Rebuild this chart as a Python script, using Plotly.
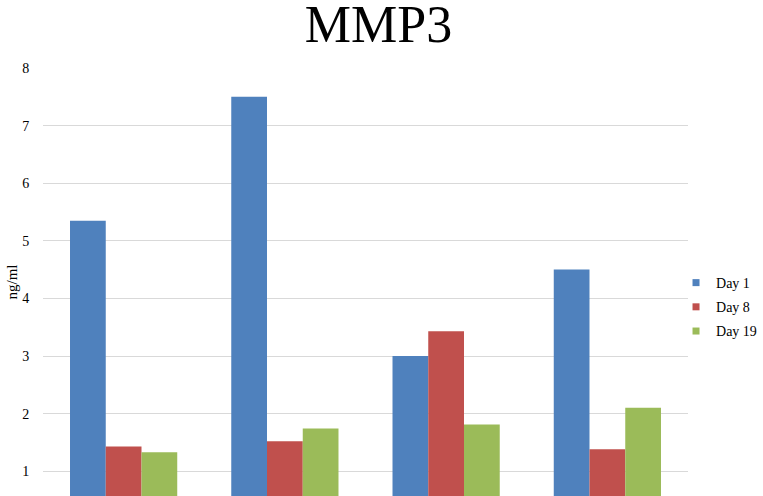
import plotly.graph_objects as go

# Data (x labels are cropped out in the source)
groups = ["Group 1", "Group 2", "Group 3", "Group 4"]
day1 = [5.35, 7.5, 3.0, 4.5]
day8 = [1.43, 1.52, 3.43, 1.38]
day19 = [1.33, 1.74, 1.81, 2.10]
series_names = ["Day 1", "Day 8", "Day 19"]
colors = ["#4F81BD", "#C0504D", "#9BBB59"]

fig = go.Figure()
for name, vals, col in zip(series_names, [day1, day8, day19], colors):
    fig.add_trace(go.Bar(x=groups, y=vals, name=name, showlegend=False,
                         marker=dict(color=col, line=dict(width=0))))
    # small square legend keys, like the Excel original
    fig.add_trace(go.Scatter(x=[None], y=[None], mode="markers", name=name, legendgroup=name,
                             marker=dict(symbol="square", size=7, color=col)))

font_family = "Liberation Serif, Times New Roman, serif"

fig.update_layout(
    width=763, height=496,
    barmode="group", bargap=0.335, bargroupgap=0,
    plot_bgcolor="white", paper_bgcolor="white",
    margin=dict(l=43, r=75, t=68, b=0, autoexpand=False),
    font=dict(family=font_family, color="black"),
    title=dict(text="MMP3", x=0.496, xanchor="center", y=0.952, yanchor="middle",
               font=dict(size=52, family=font_family, color="black")),
    showlegend=True,
    legend=dict(xref="container", yref="container", x=0.886, xanchor="left",
                y=0.381, yanchor="middle",
                font=dict(size=14, family=font_family), itemwidth=30,
                tracegroupgap=3, bgcolor="rgba(0,0,0,0)"),
)

fig.update_xaxes(showticklabels=False, showgrid=False, showline=False, zeroline=False,
                 automargin=False)
fig.update_yaxes(range=[0.57, 8], dtick=1, tick0=0, showgrid=True, gridcolor="#D9D9D9",
                 gridwidth=1, zeroline=False, showline=False, automargin=False,
                 ticks="outside", ticklen=10, tickcolor="rgba(0,0,0,0)",
                 tickfont=dict(size=14, family=font_family, color="black"),
                 title=dict(text="ng/ml", font=dict(size=15, family=font_family), standoff=0))

# drop the default 8px body margin so the figure sits at the page corner
fig.write_html("out.html", config={"displayModeBar": False},
               post_script="document.body.style.margin='0px';")
